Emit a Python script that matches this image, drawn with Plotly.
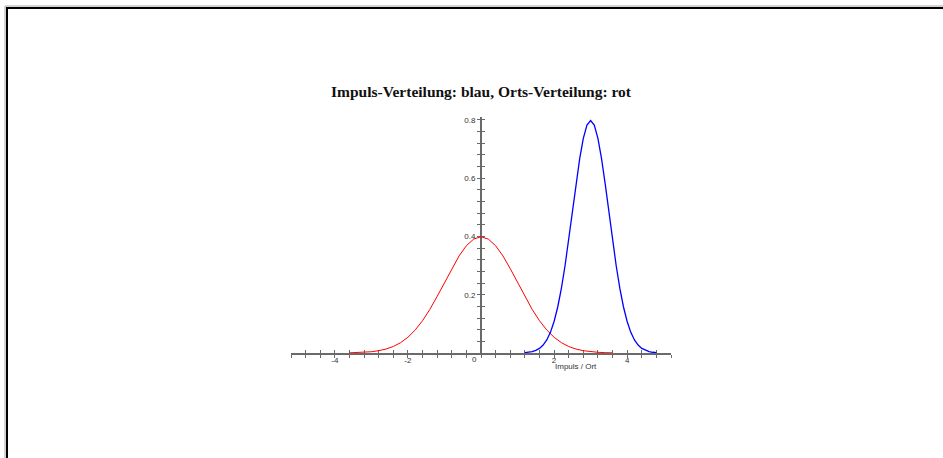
import plotly.graph_objects as go

# ---- data ----
red_x = [-3.6, -3.4, -3.2, -3.0, -2.8, -2.6, -2.4, -2.2, -2.0, -1.8, -1.6, -1.4, -1.2,
         -1.0, -0.8, -0.6, -0.4, -0.2, 0.0, 0.2, 0.4, 0.6, 0.8, 1.0, 1.2, 1.4, 1.6,
         1.8, 2.0, 2.2, 2.4, 2.6, 2.8, 3.0, 3.2, 3.4, 3.6]
red_y = [0.0006, 0.0012, 0.0024, 0.0044, 0.0079, 0.0136, 0.0224, 0.0355, 0.0540, 0.0790,
         0.1109, 0.1497, 0.1942, 0.2420, 0.2897, 0.3332, 0.3683, 0.3910, 0.3989, 0.3910,
         0.3683, 0.3332, 0.2897, 0.2420, 0.1942, 0.1497, 0.1109, 0.0790, 0.0540, 0.0355,
         0.0224, 0.0136, 0.0079, 0.0044, 0.0024, 0.0012, 0.0006]

blue_x = [1.2, 1.3, 1.4, 1.5, 1.6, 1.7, 1.8, 1.9, 2.0, 2.1, 2.2, 2.3, 2.4, 2.5, 2.6, 2.7,
          2.8, 2.9, 3.0, 3.1, 3.2, 3.3, 3.4, 3.5, 3.6, 3.7, 3.8, 3.9, 4.0, 4.1, 4.2, 4.3,
          4.4, 4.5, 4.6, 4.7, 4.8]
blue_y = [0.0012, 0.0025, 0.0048, 0.0089, 0.0158, 0.0272, 0.0448, 0.0709, 0.1080, 0.1579,
          0.2218, 0.2995, 0.3884, 0.4839, 0.5794, 0.6665, 0.7366, 0.7821, 0.7979, 0.7821,
          0.7366, 0.6665, 0.5794, 0.4839, 0.3884, 0.2995, 0.2218, 0.1579, 0.1080, 0.0709,
          0.0448, 0.0272, 0.0158, 0.0089, 0.0048, 0.0025, 0.0012]

x_tick_vals = [round(k * 0.4, 1) for k in range(-13, 14)]
x_tick_labels = {-4.0: "-4", -2.0: "-2", 2.0: "2", 4.0: "4"}
y_tick_vals = [round(k * 0.04, 2) for k in range(0, 21)]
y_tick_labels = {0.2: "0.2", 0.4: "0.4", 0.6: "0.6", 0.8: "0.8"}

title_text = "Impuls-Verteilung: blau, Orts-Verteilung: rot"
x_title = "Impuls / Ort"

X_RANGE = [-5.2, 5.2]
Y_RANGE = [0, 0.81]
AXIS_COLOR = "#6a6a6a"
TICK_FONT = dict(family="Liberation Sans, Arial, sans-serif", size=8, color="#333333")

fig = go.Figure()
fig.add_trace(go.Scatter(x=red_x, y=red_y, mode="lines",
                         line=dict(color="#ff0000", width=1.0), cliponaxis=False))
fig.add_trace(go.Scatter(x=blue_x, y=blue_y, mode="lines",
                         line=dict(color="#0000ff", width=1.3), cliponaxis=False))
# empty trace to create the overlay axes (ticks on the other side of the axis lines)
fig.add_trace(go.Scatter(x=[], y=[], xaxis="x2", yaxis="y2"))

xt = [x_tick_labels.get(v, "") for v in x_tick_vals]
yt = [y_tick_labels.get(v, "") for v in y_tick_vals]

W, H = 943, 458
L, R, T, B = 291, 272, 117, 105

fig.update_layout(
    width=W, height=H, autosize=False,
    margin=dict(l=L, r=R, t=T, b=B, pad=0),
    paper_bgcolor="white", plot_bgcolor="white",
    showlegend=False,
    title=dict(text=title_text, x=0.5, xref="paper", xanchor="center",
               y=1 - 91.7 / H, yanchor="middle",
               font=dict(family="Liberation Serif, Times New Roman, serif", size=15.5,
                         color="#111111", weight="bold")),
    xaxis=dict(range=X_RANGE, domain=[0, 1], anchor="y", showgrid=False, zeroline=False,
               showline=True, linecolor=AXIS_COLOR, linewidth=2, layer="below traces",
               tickmode="array", tickvals=x_tick_vals, ticktext=xt,
               ticks="outside", ticklen=3, tickwidth=1, tickcolor=AXIS_COLOR,
               ticklabelstandoff=-5, tickfont=TICK_FONT),
    xaxis2=dict(range=X_RANGE, overlaying="x", anchor="y2", side="bottom",
                showgrid=False, zeroline=False, showline=False,
                tickmode="array", tickvals=x_tick_vals, showticklabels=False,
                ticks="inside", ticklen=3, tickwidth=1, tickcolor=AXIS_COLOR,
                layer="below traces"),
    yaxis=dict(range=Y_RANGE, domain=[0, 1], anchor="free", position=0.5,
               showgrid=False, zeroline=False,
               showline=True, linecolor=AXIS_COLOR, linewidth=2, layer="below traces",
               tickmode="array", tickvals=y_tick_vals, ticktext=yt,
               ticks="outside", ticklen=3, tickwidth=1, tickcolor=AXIS_COLOR,
               tickfont=TICK_FONT),
    yaxis2=dict(range=Y_RANGE, overlaying="y", anchor="free", position=0.5,
                showgrid=False, zeroline=False, showline=False,
                tickmode="array", tickvals=y_tick_vals, showticklabels=False,
                ticks="inside", ticklen=3, tickwidth=1, tickcolor=AXIS_COLOR,
                layer="below traces"),
)

fig.add_annotation(x=-0.19, y=0, xref="x", yref="y", text="0", showarrow=False,
                   xanchor="center", yanchor="middle", yshift=-6, font=TICK_FONT)
fig.add_annotation(x=2.6, y=0, xref="x", yref="y", text=x_title, showarrow=False,
                   xanchor="center", yanchor="middle", yshift=-13.5, font=TICK_FONT)

# window frame (top and left edges)
pw, ph = W - L - R, H - T - B
def px(x):
    return (x - L) / pw
def py(y):
    return (H - B - y) / ph

fig.add_shape(type="line", xref="paper", yref="paper", x0=px(5), x1=px(960),
              y0=py(6), y1=py(6), line=dict(color="#a8a8a8", width=1))
fig.add_shape(type="line", xref="paper", yref="paper", x0=px(5), x1=px(5),
              y0=py(6), y1=py(470), line=dict(color="#a8a8a8", width=1))
fig.add_shape(type="line", xref="paper", yref="paper", x0=px(6), x1=px(960),
              y0=py(8), y1=py(8), line=dict(color="#000000", width=2))
fig.add_shape(type="line", xref="paper", yref="paper", x0=px(7), x1=px(7),
              y0=py(7), y1=py(470), line=dict(color="#000000", width=2))

fig.write_html("out.html", config={"displayModeBar": False},
               post_script="document.body.style.margin='0';document.body.style.overflow='hidden';")
